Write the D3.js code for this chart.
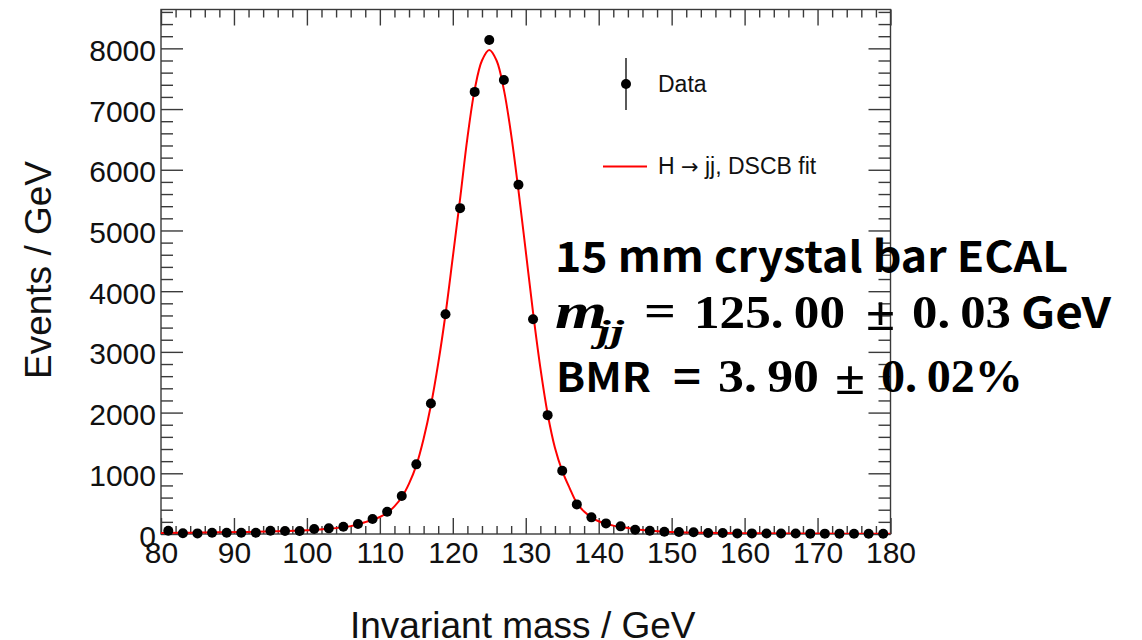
<!DOCTYPE html>
<html><head><meta charset="utf-8">
<script src="https://cdn.jsdelivr.net/npm/d3@7/dist/d3.min.js"></script>
<style>body{margin:0;background:#fff}</style>
</head><body>
<svg id="c" width="1142" height="640" xmlns="http://www.w3.org/2000/svg"></svg>
<script>
// ---- data ----
const massBins = [81,83,85,87,89,91,93,95,97,99,101,103,105,107,109,111,113,115,117,119,
                  121,123,125,127,129,131,133,135,137,139,141,143,145,147,149,151,153,155,157,159,
                  161,163,165,167,169,171,173,175,177,179];
const dataEvents = [55,11,10,20,20,20,20,55,50,50,82,93,120,164,246,367,625,1147,2150,3619,
                    5368,7283,8138,7480,5752,3537,1958,1042,488,274,175,126,70,55,38,33,30,15,15,10,
                    10,8,8,8,6,6,6,5,5,5];
const fitMass = [80,84,88,92,96,100,103,106,108,110,111,112,113,114,115,116,117,118,119,120,
                 121,122,123,124,125,126,127,128,129,130,131,132,133,134,135,136,137,138,139,140,
                 142,144,146,148,150,155,160,170,180];
const fitEvents = [18,22,27,34,45,62,85,130,195,280,350,455,605,830,1130,1570,2120,2810,3620,4560,
                   5520,6520,7320,7800,7973,7800,7320,6580,5660,4660,3650,2740,1980,1420,1040,760,510,370,275,210,
                   138,98,65,46,34,20,13,7,4];
const xMajorTicks = [80,90,100,110,120,130,140,150,160,170,180];
const yMajorTicks = [0,1000,2000,3000,4000,5000,6000,7000,8000];
const legendLabels = ["Data", ["H ", "\u2192", " jj, DSCB fit"]];
const xTitle = "Invariant mass / GeV";
const yTitle = "Events / GeV";

// ---- layout ----
const svg = d3.select("#c");
const L = 161, R = 890.5, T = 9.5, B = 534;
const x = d3.scaleLinear().domain([80, 180]).range([L, R]);
const y = d3.scaleLinear().domain([0, 8640]).range([B, T]);
const sans = "'Liberation Sans', Arial, Helvetica, sans-serif";
const axCol = "#3a3a3a";

const xMinor = d3.range(80, 181, 2).filter(v => v % 10 !== 0);
const yMinor = d3.range(0, 8601, 200).filter(v => v % 1000 !== 0);

function style(g) {
  g.select(".domain").remove();
  g.selectAll(".tick line").attr("stroke", axCol).attr("stroke-width", 1.4);
  g.selectAll(".tick text").attr("font-family", sans).attr("font-size", 30).attr("fill", "#111");
}

// bottom axis
svg.append("g").attr("transform", `translate(0,${B})`)
  .call(d3.axisBottom(x).tickValues(xMajorTicks).tickSize(-16).tickPadding(8).tickFormat(d3.format("d")))
  .call(style);
svg.append("g").attr("transform", `translate(0,${B})`)
  .call(d3.axisBottom(x).tickValues(xMinor).tickSize(-8).tickFormat(""))
  .call(style);
// top axis
svg.append("g").attr("transform", `translate(0,${T})`)
  .call(d3.axisTop(x).tickValues(xMajorTicks).tickSize(-16).tickFormat(""))
  .call(style);
svg.append("g").attr("transform", `translate(0,${T})`)
  .call(d3.axisTop(x).tickValues(xMinor).tickSize(-8).tickFormat(""))
  .call(style);
// left axis
const gl = svg.append("g").attr("transform", `translate(${L},0)`)
  .call(d3.axisLeft(y).tickValues(yMajorTicks).tickSize(-22).tickPadding(5).tickFormat(d3.format("d")))
  .call(style);
gl.selectAll(".tick text").attr("dy", "0.4em");
svg.append("g").attr("transform", `translate(${L},0)`)
  .call(d3.axisLeft(y).tickValues(yMinor).tickSize(-12).tickFormat(""))
  .call(style);
// right axis
svg.append("g").attr("transform", `translate(${R},0)`)
  .call(d3.axisRight(y).tickValues(yMajorTicks).tickSize(-22).tickFormat(""))
  .call(style);
svg.append("g").attr("transform", `translate(${R},0)`)
  .call(d3.axisRight(y).tickValues(yMinor).tickSize(-12).tickFormat(""))
  .call(style);

// frame
svg.append("rect").attr("x", L).attr("y", T).attr("width", R - L).attr("height", B - T)
  .attr("fill", "none").attr("stroke", axCol).attr("stroke-width", 1.4);

// clip
svg.append("clipPath").attr("id", "clip").append("rect")
  .attr("x", L).attr("y", T).attr("width", R - L).attr("height", B - T);

// fit curve
const fitPts = fitMass.map((m, i) => [m, fitEvents[i]]);
svg.append("path").datum(fitPts)
  .attr("clip-path", "url(#clip)")
  .attr("d", d3.line().x(d => x(d[0])).y(d => y(d[1])).curve(d3.curveCatmullRom.alpha(0.5)))
  .attr("fill", "none").attr("stroke", "#ff0000").attr("stroke-width", 2);

// data points
svg.append("g").selectAll("circle").data(massBins.map((m, i) => [m, dataEvents[i]]))
  .join("circle")
  .attr("cx", d => x(d[0])).attr("cy", d => y(d[1])).attr("r", 5).attr("fill", "#000");

// axis titles
svg.append("text").attr("x", (x(80) + x(180)) / 2 - 3).attr("y", 638)
  .attr("text-anchor", "middle").attr("font-family", sans).attr("font-size", 37).attr("fill", "#111")
  .text(xTitle);
svg.append("text").attr("transform", "translate(51,270) rotate(-90)")
  .attr("text-anchor", "middle").attr("font-family", sans).attr("font-size", 37).attr("fill", "#111")
  .text(yTitle);

// legend
svg.append("line").attr("x1", 626).attr("x2", 626).attr("y1", 58).attr("y2", 110)
  .attr("stroke", "#000").attr("stroke-width", 1.3);
svg.append("circle").attr("cx", 626).attr("cy", 84).attr("r", 5).attr("fill", "#000");
svg.append("text").attr("x", 658).attr("y", 92).attr("font-family", sans).attr("font-size", 23)
  .attr("fill", "#111").text(legendLabels[0]);
svg.append("line").attr("x1", 603).attr("x2", 647).attr("y1", 166.5).attr("y2", 166.5)
  .attr("stroke", "#ff0000").attr("stroke-width", 2);
const lt = svg.append("text").attr("x", 658).attr("y", 174).attr("font-family", sans).attr("font-size", 23)
  .attr("fill", "#111");
lt.append("tspan").text(legendLabels[1][0]);
lt.append("tspan").attr("font-family", "'DejaVu Sans', sans-serif").attr("font-size", 21).text(legendLabels[1][1]);
lt.append("tspan").text(legendLabels[1][2]);

// annotations
const cjk = "'Noto Sans CJK SC', 'Noto Sans', sans-serif";
const serif = "'Liberation Serif', 'DejaVu Serif', serif";
function piece(txt, x0, x1, yb, fam, size, opts = {}) {
  svg.append("text").attr("x", x0).attr("y", yb)
    .attr("font-family", fam).attr("font-size", size)
    .attr("font-weight", opts.weight || "bold").attr("font-style", opts.style || "normal")
    .attr("textLength", x1 - x0).attr("lengthAdjust", "spacingAndGlyphs")
    .attr("fill", "#000").text(txt);
}
piece("15 mm crystal bar ECAL", 555, 1068, 272, cjk, 42);
piece("m", 555, 607, 328, serif, 50, {style: "italic"});
piece("jj", 597, 624, 342, serif, 32, {style: "italic"});
piece("=", 644, 676, 326, serif, 46);
piece("125.\u200900", 694, 845, 328, serif, 47);
piece("\u00b1", 866, 895, 330, serif, 48);
piece("0.\u200903", 912, 1011, 328, serif, 47);
piece("GeV", 1021, 1111, 328, cjk, 42);
piece("BMR", 556, 651, 392, cjk, 41);
piece("=", 673, 701, 392, cjk, 41);
piece("3.\u200990", 718, 819, 392, serif, 47);
piece("\u00b1", 835, 865, 394, serif, 48);
piece("0.\u200902%", 881, 1023, 392, serif, 47);
</script>
</body></html>
